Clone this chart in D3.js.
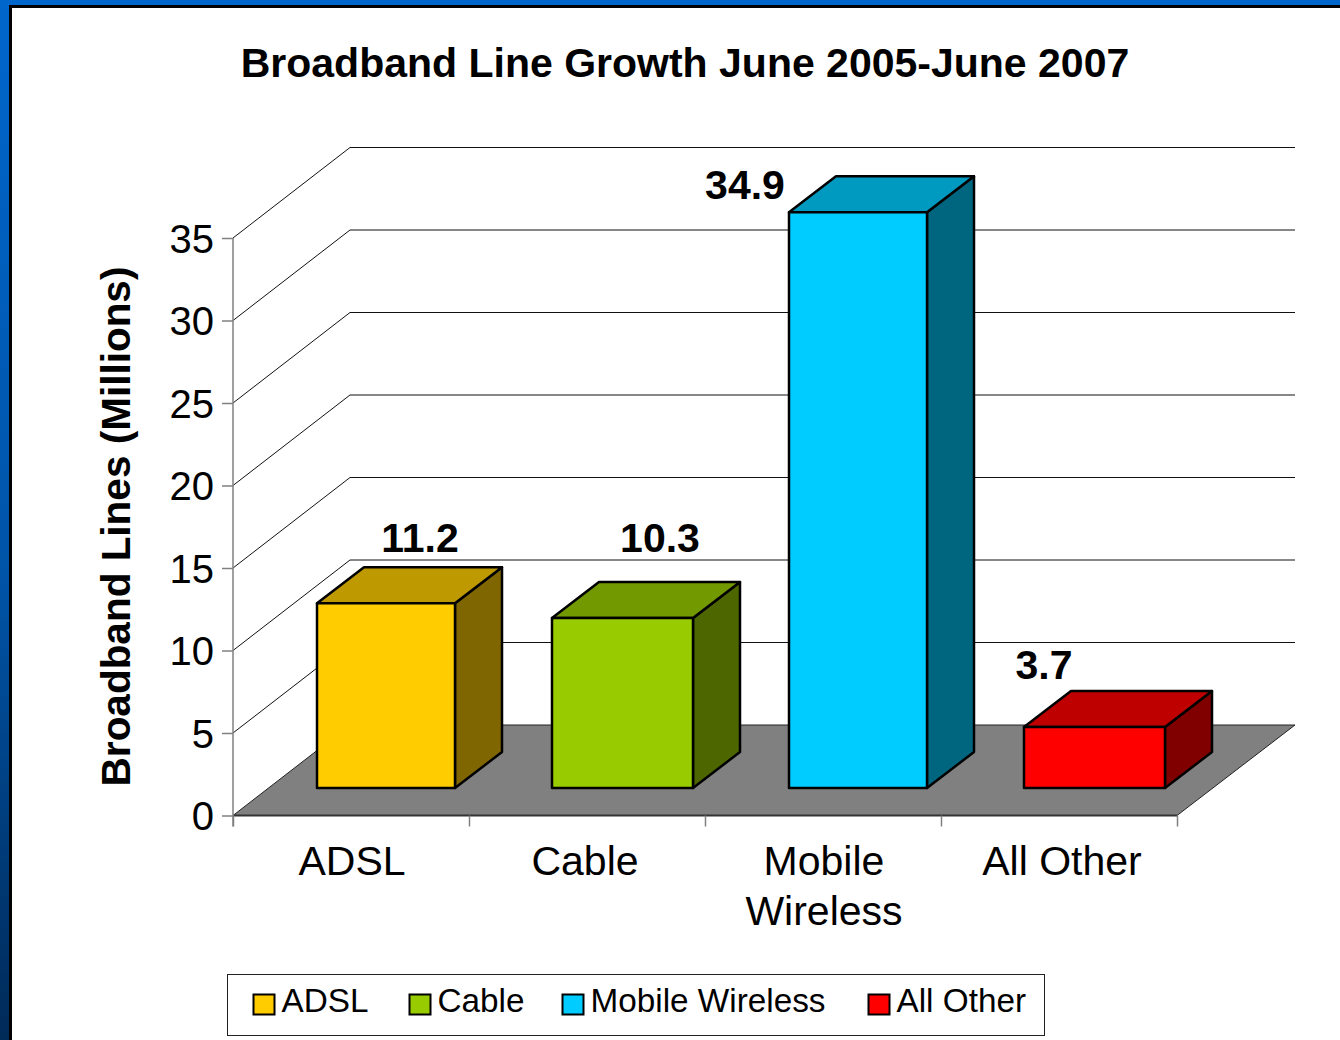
<!DOCTYPE html>
<html>
<head>
  <meta charset="utf-8">
  <title>Broadband Line Growth June 2005-June 2007</title>
  <script src="https://d3js.org/d3.v7.min.js"></script>
  <style>
    html, body { margin: 0; padding: 0; background: #fff; }
    svg { display: block; }
    text { font-family: "Liberation Sans", Arial, sans-serif; fill: #000; }
  </style>
</head>
<body>
<svg width="1340" height="1040"></svg>
<script>
  // Values
  const categories = ["ADSL", "Cable", "Mobile Wireless", "All Other"];
  const values = [11.2, 10.3, 34.9, 3.7];
  const yTicks = [0, 5, 10, 15, 20, 25, 30, 35];
  const titleText = "Broadband Line Growth June 2005-June 2007";
  const yAxisTitle = "Broadband Lines (Millions)";

  // front, top and side colours of each bar
  const frontColors = ["#ffcc00", "#99cc00", "#00ccff", "#ff0000"];
  const topColors = ["#bf9900", "#739900", "#0099bf", "#bf0000"];
  const sideColors = ["#806600", "#4d6600", "#006680", "#800000"];

  // Layout of the fake 3D box
  const plotLeft = 233, plotRight = 1177, plotBottom = 815.5, plotTop = 238;
  const wallDx = 117, wallDy = -90.5; // front of floor -> back wall
  const barLift = 27.5;               // bars stand back from the floor edge
  const barDx = 47, barDy = -36;      // depth of a bar

  const svg = d3.select("svg");

  // Slide background and the white panel
  const defs = svg.append("defs");
  const bg = defs.append("linearGradient").attr("id", "bg")
    .attr("x1", 0).attr("y1", 0).attr("x2", 0).attr("y2", 1);
  bg.append("stop").attr("offset", "0").attr("stop-color", "#0066cc");
  bg.append("stop").attr("offset", "0.55").attr("stop-color", "#0054a8");
  bg.append("stop").attr("offset", "1").attr("stop-color", "#002a58");
  svg.append("rect").attr("width", 1340).attr("height", 1040).attr("fill", "url(#bg)");
  svg.append("rect").attr("x", 9).attr("y", 5).attr("width", 1331).attr("height", 1035).attr("fill", "#000");
  svg.append("rect").attr("x", 12).attr("y", 8).attr("width", 1328).attr("height", 1032).attr("fill", "#fff");

  const x = d3.scaleBand().domain(categories).range([plotLeft, plotRight]);
  const y = d3.scaleLinear().domain([0, 35]).range([plotBottom, plotTop]);
  const edge = d3.scaleLinear().domain([0, categories.length]).range([plotLeft, plotRight]);

  // Floor
  const poly = pts => pts.map(p => p.join(",")).join(" ");
  svg.append("polygon")
    .attr("points", poly([[plotLeft, plotBottom], [plotRight, plotBottom], [plotRight + wallDx + 1, plotBottom + wallDy], [plotLeft + wallDx, plotBottom + wallDy]]))
    .attr("fill", "#808080").attr("stroke", "#222").attr("stroke-width", 1);
  svg.append("line").attr("x1", plotLeft).attr("x2", plotRight).attr("y1", plotBottom).attr("y2", plotBottom)
    .attr("stroke", "#333").attr("stroke-width", 2);

  // Wall grid
  const grid = svg.append("g").attr("fill", "none").attr("stroke", "#111").attr("stroke-width", 1);
  grid.selectAll(".diag").data(yTicks.slice(1)).enter().append("line")
    .attr("x1", plotLeft).attr("y1", d => y(d))
    .attr("x2", plotLeft + wallDx).attr("y2", d => y(d) + wallDy);
  grid.selectAll(".back").data(yTicks.slice(1)).enter().append("line")
    .attr("x1", plotLeft + wallDx).attr("y1", d => y(d) + wallDy)
    .attr("x2", plotRight + wallDx + 1).attr("y2", d => y(d) + wallDy);

  // Axes
  const yAxis = svg.append("g").attr("transform", `translate(${plotLeft},0)`)
    .call(d3.axisLeft(y).tickValues(yTicks).tickSize(11).tickPadding(8));
  const xAxis = svg.append("g").attr("transform", `translate(0,${plotBottom})`)
    .call(d3.axisBottom(edge).ticks(categories.length).tickSize(11).tickFormat(""));
  xAxis.select(".domain").remove();
  yAxis.select(".domain").attr("stroke", "#808080").attr("stroke-width", 1.5)
    .attr("d", `M0,${plotTop}V${plotBottom + 11}`);
  svg.selectAll(".tick line").attr("stroke", "#808080").attr("stroke-width", 1.5);
  yAxis.selectAll("text").attr("font-size", 40).attr("fill", "#000").attr("dy", "0.355em")
    .attr("font-family", '"Liberation Sans", Arial, sans-serif');

  // Bars, the source picture rounds their edges unevenly
  const barInset = [84, 83, 84, 83], barWidth = [138, 141, 138, 141];
  const bars = svg.selectAll(".bar").data(categories).enter().append("g").attr("class", "bar")
    .attr("stroke", "#000").attr("stroke-width", 2.5).attr("stroke-linejoin", "round");
  const x0 = (d, i) => x(d) + barInset[i], x1 = (d, i) => x0(d, i) + barWidth[i];
  const yBase = plotBottom - barLift;
  const yTop = (d, i) => y(values[i]) - barLift;
  bars.append("polygon").attr("fill", (d, i) => sideColors[i])
    .attr("points", (d, i) => poly([[x1(d, i), yBase], [x1(d, i) + barDx, yBase + barDy], [x1(d, i) + barDx, yTop(d, i) + barDy], [x1(d, i), yTop(d, i)]]));
  bars.append("polygon").attr("fill", (d, i) => topColors[i])
    .attr("points", (d, i) => poly([[x0(d, i), yTop(d, i)], [x1(d, i), yTop(d, i)], [x1(d, i) + barDx, yTop(d, i) + barDy], [x0(d, i) + barDx, yTop(d, i) + barDy]]));
  bars.append("rect").attr("fill", (d, i) => frontColors[i])
    .attr("x", x0).attr("width", (d, i) => barWidth[i])
    .attr("y", yTop).attr("height", (d, i) => yBase - yTop(d, i));

  // Data labels were moved by hand in the original, so each has its own nudge
  const labelNudge = [[69, -51], [73, -66], [-78, -13], [-15, -48]];
  svg.selectAll(".value").data(categories).enter().append("text").attr("class", "value")
    .attr("text-anchor", "middle").attr("font-weight", "bold").attr("font-size", 41)
    .attr("x", (d, i) => x(d) + x.bandwidth() / 2 + labelNudge[i][0])
    .attr("y", (d, i) => yTop(d, i) + labelNudge[i][1])
    .text((d, i) => values[i].toFixed(1));

  // Category labels, long ones wrap onto two lines
  const catNudge = [1, -2, 1, 3];
  const catLabels = svg.selectAll(".cat").data(categories).enter().append("text").attr("class", "cat")
    .attr("text-anchor", "middle").attr("font-size", 41)
    .attr("transform", (d, i) => `translate(${x(d) + x.bandwidth() / 2 + catNudge[i]},874.5)`);
  catLabels.selectAll("tspan")
    .data(d => d === "All Other" ? [d] : d.split(" "))
    .enter().append("tspan")
    .attr("x", 0).attr("dy", (d, i) => i ? 50 : 0).text(d => d);

  // Title
  svg.append("text").attr("x", 685).attr("y", 77).attr("text-anchor", "middle")
    .attr("font-weight", "bold").attr("font-size", 41).text(titleText);
  svg.append("text").attr("transform", "translate(130,526.5) rotate(-90)")
    .attr("text-anchor", "middle").attr("font-weight", "bold").attr("font-size", 40.5).text(yAxisTitle);

  // Legend
  const legend = svg.append("g");
  legend.append("rect").attr("x", 227.5).attr("y", 974.5).attr("width", 817).attr("height", 61)
    .attr("fill", "#fff").attr("stroke", "#222").attr("stroke-width", 1);
  const legendX = [253, 409, 562, 868];
  const items = legend.selectAll(".item").data(categories).enter().append("g").attr("class", "item")
    .attr("transform", (d, i) => `translate(${legendX[i]},0)`);
  items.append("rect").attr("x", 0.5).attr("y", 994.5).attr("width", 21).attr("height", 20)
    .attr("fill", (d, i) => frontColors[i]).attr("stroke", "#000").attr("stroke-width", 2);
  items.append("text").attr("x", 28.5).attr("y", 1012).attr("font-size", 33.3).text(d => d);
</script>
</body>
</html>
